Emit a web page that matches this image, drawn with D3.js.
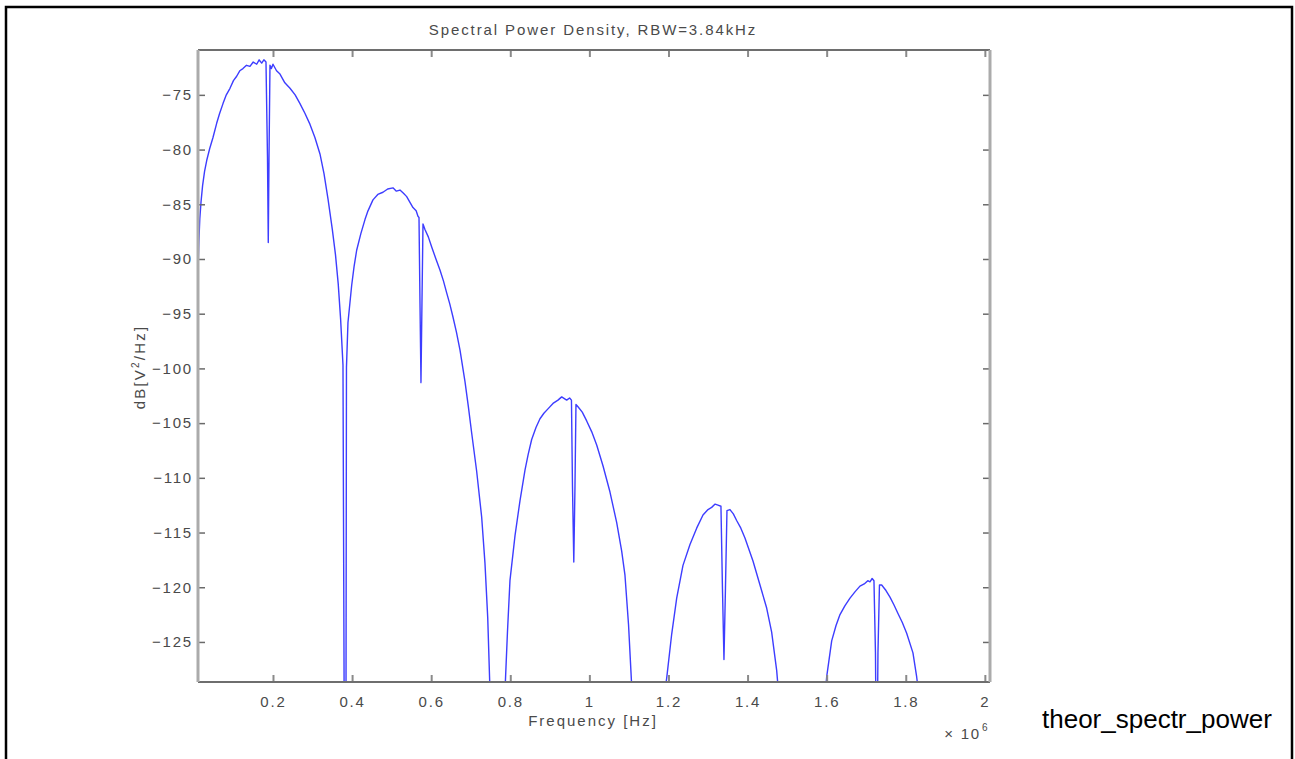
<!DOCTYPE html>
<html>
<head>
<meta charset="utf-8">
<script src="https://cdn.jsdelivr.net/npm/d3@7"></script>
<style>
  html, body { margin: 0; padding: 0; background: #fff; }
  svg { display: block; }
  text { font-family: "Liberation Sans", Arial, Helvetica, sans-serif; }
</style>
</head>
<body>
<svg id="chart" width="1295" height="759"></svg>
<script>
// ---------------- data (frequency in units of 1e6 Hz, PSD in dB[V^2/Hz]) ----------------
const freqMHz = [
  0.0104, 0.0125, 0.0150, 0.0180, 0.0220, 0.0270, 0.0324, 0.0400, 0.0483, 0.0576,
  0.0650, 0.0736, 0.0820, 0.0913, 0.1000, 0.1082, 0.1160, 0.1241, 0.1330, 0.1418,
  0.1500, 0.1588, 0.1650, 0.1714, 0.1770, 0.1823, 0.1861, 0.1881, 0.1899, 0.1924,
  0.1960, 0.2000, 0.2090, 0.2177, 0.2300, 0.2430, 0.2560, 0.2683, 0.2810, 0.2936,
  0.3060, 0.3188, 0.3290, 0.3391, 0.3500, 0.3580, 0.3650, 0.3710, 0.3770, 0.3833,
  0.3858, 0.3896, 0.3990, 0.4050, 0.4116, 0.4220, 0.4326, 0.4402, 0.4528, 0.4650,
  0.4781, 0.4900, 0.5034, 0.5120, 0.5211, 0.5300, 0.5381, 0.5460, 0.5540, 0.5620,
  0.5666, 0.5692, 0.5717, 0.5742, 0.5767, 0.5793, 0.5843, 0.5930, 0.6013, 0.6120,
  0.6222, 0.6310, 0.6392, 0.6470, 0.6551, 0.6640, 0.6728, 0.6855, 0.6940, 0.7024,
  0.7150, 0.7277, 0.7360, 0.7430, 0.7487, 0.7680,
  0.7866, 0.7930, 0.7992, 0.8119, 0.8245, 0.8372, 0.8450, 0.8541, 0.8650, 0.8751,
  0.8850, 0.8953, 0.9080, 0.9206, 0.9300, 0.9426, 0.9500, 0.9547, 0.9573, 0.9606,
  0.9636, 0.9661, 0.9712, 0.9820, 0.9932, 1.0060, 1.0185, 1.0344, 1.0521, 1.0691,
  1.0817, 1.0900, 1.0990, 1.1077, 1.1520,
  1.1912, 1.1955, 1.2081, 1.2208, 1.2367, 1.2544, 1.2713, 1.2873, 1.3000, 1.3092,
  1.3180, 1.3252, 1.3327, 1.3365, 1.3403, 1.3441, 1.3479, 1.3555, 1.3640, 1.3724,
  1.3830, 1.3934, 1.4137, 1.4314, 1.4483, 1.4609, 1.4736, 1.4780, 1.5360,
  1.5970, 1.6000, 1.6127, 1.6237, 1.6337, 1.6460, 1.6590, 1.6720, 1.6842, 1.6950,
  1.7040, 1.7095, 1.7150, 1.7196, 1.7234, 1.7264, 1.7297, 1.7335, 1.7391, 1.7500,
  1.7601, 1.7700, 1.7803, 1.7910, 1.8023, 1.8182, 1.8276, 1.8320, 1.9190, 2.0130
];
const psdDb = [
  -91.0, -88.5, -86.3, -84.8, -83.3, -82.0, -81.0, -79.9, -78.9, -77.6,
  -76.7, -75.8, -75.0, -74.4, -73.7, -73.3, -72.8, -72.6, -72.3, -72.4,
  -72.0, -72.2, -71.8, -72.1, -71.8, -72.0, -80.7, -88.5, -80.9, -72.3,
  -72.6, -72.2, -72.8, -73.1, -73.9, -74.4, -75.0, -75.8, -76.7, -77.7,
  -78.9, -80.4, -82.2, -84.5, -87.3, -89.6, -92.3, -95.5, -99.7, -165.0,
  -99.9, -95.8, -92.4, -90.7, -89.2, -87.7, -86.4, -85.6, -84.6, -84.1,
  -83.9, -83.6, -83.5, -83.8, -83.7, -84.0, -84.3, -84.8, -85.3, -85.6,
  -86.1, -86.2, -94.0, -101.3, -94.0, -86.8, -87.3, -88.0, -88.9, -90.0,
  -91.0, -92.0, -93.1, -94.1, -95.3, -96.7, -98.3, -101.2, -103.5, -105.9,
  -109.4, -113.6, -117.8, -122.8, -129.5, -170.0,
  -129.5, -124.0, -119.4, -115.3, -112.1, -109.3, -107.9, -106.5, -105.4, -104.6,
  -104.1, -103.7, -103.2, -102.9, -102.6, -102.9, -102.7, -102.9, -110.8, -117.7,
  -110.8, -103.3, -103.5, -104.0, -104.8, -105.8, -107.0, -108.9, -111.3, -114.1,
  -116.7, -118.9, -123.4, -129.5, -175.0,
  -129.5, -128.3, -124.3, -121.0, -118.0, -116.1, -114.6, -113.4, -112.9, -112.7,
  -112.4, -112.5, -112.6, -120.1, -126.6, -120.1, -113.0, -112.9, -113.3, -113.9,
  -114.6, -115.5, -117.6, -119.8, -121.9, -124.1, -127.6, -129.5, -180.0,
  -129.5, -128.2, -124.9, -123.5, -122.5, -121.7, -121.0, -120.4, -119.9, -119.7,
  -119.4, -119.5, -119.2, -119.4, -126.0, -140.0, -126.0, -119.8, -119.8, -120.3,
  -120.9, -121.6, -122.4, -123.2, -124.2, -126.0, -128.2, -129.5, -185.0, -135.0
];
const xDomain = [0.0104, 2.013];
const yDomain = [-128.66, -70.9];
const xTicks = [0.2, 0.4, 0.6, 0.8, 1.0, 1.2, 1.4, 1.6, 1.8, 2.0];
const xTickLabels = ["0.2", "0.4", "0.6", "0.8", "1", "1.2", "1.4", "1.6", "1.8", "2"];
const yTicks = [-75, -80, -85, -90, -95, -100, -105, -110, -115, -120, -125];
const yTickLabels = ["\u221275", "\u221280", "\u221285", "\u221290", "\u221295", "\u2212100",
                     "\u2212105", "\u2212110", "\u2212115", "\u2212120", "\u2212125"];
const titleText = "Spectral Power Density, RBW=3.84kHz";
const xLabelText = "Frequency [Hz]";
const figureName = "theor_spectr_power";

// ---------------- layout ----------------
const svg = d3.select("#chart");
const L = 198, R = 990, T = 50, B = 682;
const x = d3.scaleLinear().domain(xDomain).range([L, R]);
const y = d3.scaleLinear().domain(yDomain).range([B, T]);

const textColor = "#4a4a4a";
const fs = 15, ls = 1.8;

// outer frame
svg.append("rect")
  .attr("x", 6).attr("y", 7).attr("width", 1286).attr("height", 800)
  .attr("fill", "none").attr("stroke", "#000").attr("stroke-width", 2.5);

// clip
svg.append("clipPath").attr("id", "plotclip")
  .append("rect").attr("x", L).attr("y", T).attr("width", R - L).attr("height", B - T);

// data line
const pts = freqMHz.map((f, i) => [f, psdDb[i]]);
svg.append("path")
  .datum(pts)
  .attr("clip-path", "url(#plotclip)")
  .attr("fill", "none")
  .attr("stroke", "#3d3dff")
  .attr("stroke-width", 1.4)
  .attr("stroke-linejoin", "round")
  .attr("d", d3.line().x(d => x(d[0])).y(d => y(d[1])));

// axes (ticks inward)
const tickLen = 7;
const gB = svg.append("g").attr("transform", `translate(0,${B})`)
  .call(d3.axisBottom(x).tickValues(xTicks).tickFormat((d, i) => xTickLabels[i])
        .tickSizeInner(-tickLen).tickSizeOuter(0).tickPadding(14));
const gT = svg.append("g").attr("transform", `translate(0,${T})`)
  .call(d3.axisTop(x).tickValues(xTicks).tickFormat("")
        .tickSizeInner(-tickLen).tickSizeOuter(0));
const gL = svg.append("g").attr("transform", `translate(${L},0)`)
  .call(d3.axisLeft(y).tickValues(yTicks).tickFormat((d, i) => yTickLabels[i])
        .tickSizeInner(-tickLen).tickSizeOuter(0).tickPadding(5));
const gR = svg.append("g").attr("transform", `translate(${R},0)`)
  .call(d3.axisRight(y).tickValues(yTicks).tickFormat("")
        .tickSizeInner(-tickLen).tickSizeOuter(0));

[gB, gT, gL, gR].forEach(g => {
  g.select(".domain").remove();
  g.selectAll("text").attr("fill", textColor).attr("font-size", fs)
    .style("letter-spacing", ls + "px")
    .attr("font-family", "'Liberation Sans', Arial, sans-serif");
});
[gB, gT].forEach(g => g.selectAll("line").attr("stroke", "#8a8a8a").attr("stroke-width", 2));
[gL, gR].forEach(g => g.selectAll("line").attr("stroke", "#6a6a6a").attr("stroke-width", 1.5));

// box
svg.append("line").attr("x1", L).attr("x2", R).attr("y1", T).attr("y2", T)
  .attr("stroke", "#6e6e6e").attr("stroke-width", 2);
svg.append("line").attr("x1", L).attr("x2", R).attr("y1", B).attr("y2", B)
  .attr("stroke", "#6e6e6e").attr("stroke-width", 2);
svg.append("line").attr("x1", L).attr("x2", L).attr("y1", T).attr("y2", B)
  .attr("stroke", "#ababab").attr("stroke-width", 3);
svg.append("line").attr("x1", R).attr("x2", R).attr("y1", T).attr("y2", B)
  .attr("stroke", "#ababab").attr("stroke-width", 3);

// title
svg.append("text")
  .attr("x", 593).attr("y", 35).attr("text-anchor", "middle")
  .attr("fill", textColor).attr("font-size", fs).style("letter-spacing", "1.9px")
  .text(titleText);

// x label
svg.append("text")
  .attr("x", 593).attr("y", 726).attr("text-anchor", "middle")
  .attr("fill", textColor).attr("font-size", fs).style("letter-spacing", "2px")
  .text(xLabelText);

// multiplier
svg.append("text")
  .attr("x", 981).attr("y", 739).attr("text-anchor", "end")
  .attr("fill", textColor).attr("font-size", fs).style("letter-spacing", ls + "px")
  .text("\u00d7 10");
svg.append("text")
  .attr("x", 982).attr("y", 731)
  .attr("fill", textColor).attr("font-size", 10)
  .text("6");

// y label
const yl = svg.append("text")
  .attr("transform", "translate(145,367) rotate(-90)")
  .attr("text-anchor", "middle")
  .attr("fill", textColor).attr("font-size", fs).style("letter-spacing", "2.2px");
yl.append("tspan").text("dB[V");
yl.append("tspan").attr("font-size", 10).attr("dy", -6).text("2");
yl.append("tspan").attr("dy", 6).text("/Hz]");

// figure name
svg.append("text")
  .attr("x", 1042).attr("y", 728)
  .attr("fill", "#000").attr("font-size", 26)
  .text(figureName);
</script>
</body>
</html>
